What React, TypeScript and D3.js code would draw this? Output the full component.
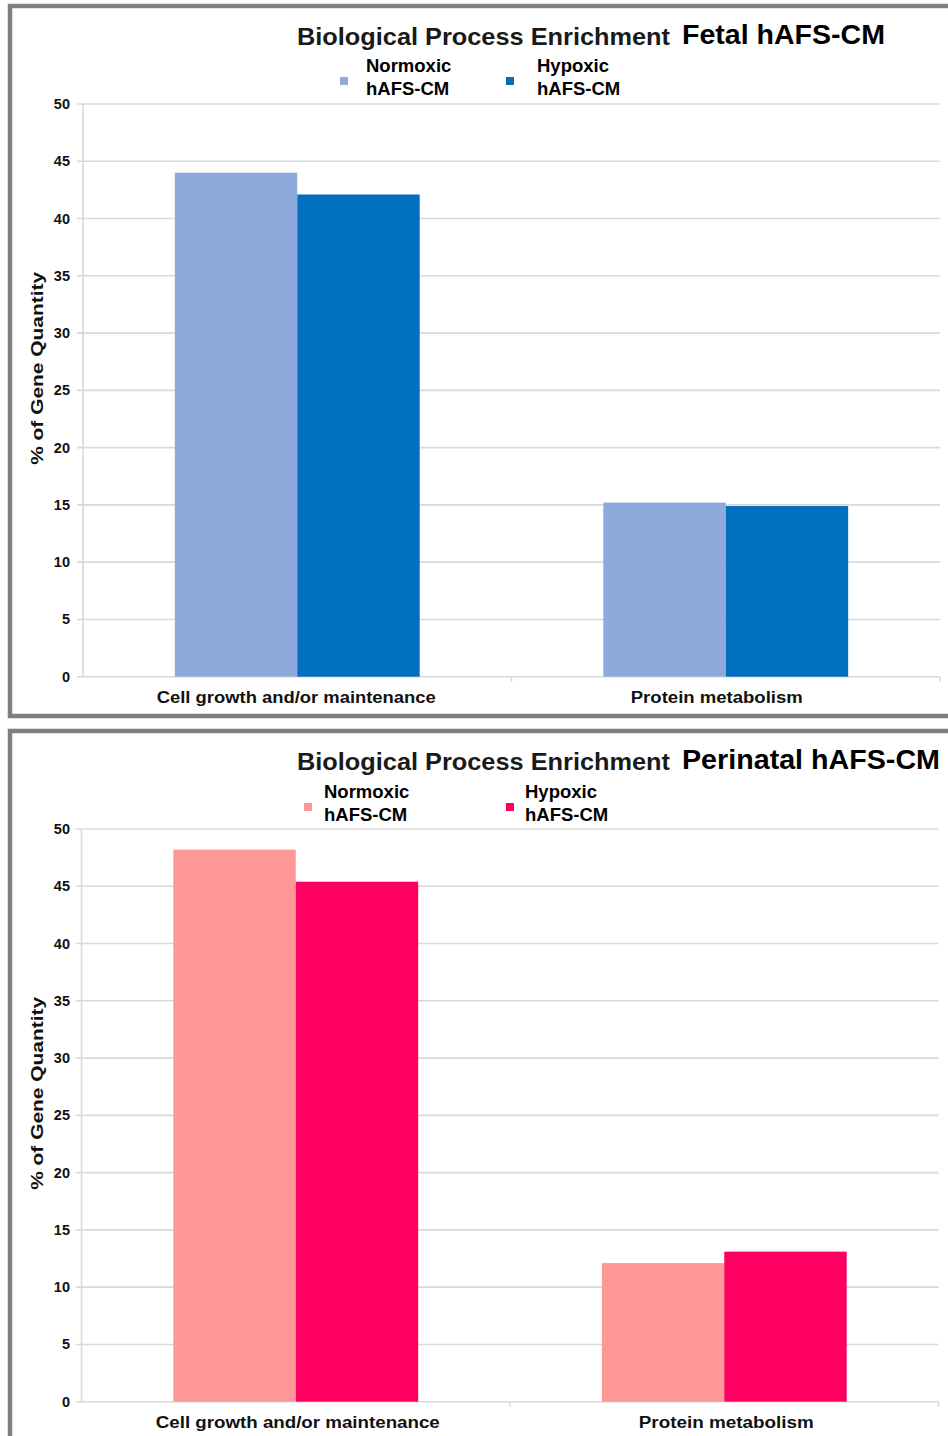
import React from "react";
import * as d3 from "d3";

// Gene-ontology enrichment: % of genes per biological process
const categories = ["Cell growth and/or maintenance", "Protein metabolism"];
const seriesLabels = [
  ["Normoxic", "hAFS-CM"],
  ["Hypoxic", "hAFS-CM"],
];
const fetalNormoxic = [44.0, 15.2];
const fetalHypoxic = [42.1, 14.9];
const perinatalNormoxic = [48.2, 12.1];
const perinatalHypoxic = [45.4, 13.1];
const yTicks = [0, 5, 10, 15, 20, 25, 30, 35, 40, 45, 50];

const FONT = "'Liberation Sans', Arial, sans-serif";

type PanelProps = {
  frameY: number;
  frameH: number;
  plotTop: number;
  plotBottom: number;
  plotLeft: number;
  plotRight: number;
  subtitle: string;
  subtitleX: number;
  subtitleW: number;
  titleBaseline: number;
  legendY: number;
  legendX: [number, number];
  legendTextX: [number, number];
  values: [number[], number[]];
  colors: [string, string];
  catLabelShift: number[];
  catLabelWidth: number[];
  catBaseline: number;
};

function Panel(p: PanelProps) {
  const x = d3.scaleBand<string>().domain(categories).range([p.plotLeft, p.plotRight]).padding(0);
  const y = d3.scaleLinear().domain([0, 50]).range([p.plotBottom, p.plotTop]);
  const bw = x.bandwidth() / 3.5; // gap width 150% of a bar
  const grid = "#d9d9d9";
  const midY = (p.plotTop + p.plotBottom) / 2 - 22;

  return (
    <g>
      {/* panel frame */}
      <rect x={10} y={p.frameY} width={980} height={p.frameH} fill="#fff" stroke="#7f7f7f" strokeWidth={4.5} />

      {/* title */}
      <text x={297} y={p.titleBaseline} fontFamily={FONT} fontWeight="bold" fontSize={24} fill="#1a1a1a"
        textLength={373} lengthAdjust="spacingAndGlyphs">
        Biological Process Enrichment
      </text>
      <text x={p.subtitleX} y={p.titleBaseline - 1} fontFamily={FONT} fontWeight="bold" fontSize={27} fill="#000"
        textLength={p.subtitleW} lengthAdjust="spacingAndGlyphs">
        {p.subtitle}
      </text>

      {/* legend */}
      {seriesLabels.map((lines, i) => (
        <g key={i}>
          <rect x={p.legendX[i]} y={p.legendY + 5} width={8} height={8} fill={p.colors[i]} />
          {lines.map((t, j) => (
            <text key={j} x={p.legendTextX[i]} y={p.legendY + j * 23} fontFamily={FONT} fontWeight="bold"
              fontSize={18.5} fill="#000">
              {t}
            </text>
          ))}
        </g>
      ))}

      {/* gridlines and y ticks */}
      {yTicks.map((t) => (
        <g key={t}>
          <line x1={p.plotLeft - 6} x2={p.plotRight} y1={y(t)} y2={y(t)} stroke={grid} strokeWidth={1.6} />
          <text x={70} y={y(t) + 5} textAnchor="end" fontFamily={FONT} fontWeight="bold" fontSize={14.5} fill="#111">
            {t}
          </text>
        </g>
      ))}
      <line x1={p.plotLeft} x2={p.plotLeft} y1={p.plotTop} y2={p.plotBottom} stroke={grid} strokeWidth={1.6} />

      {/* category ticks */}
      {[p.plotRight, ...categories.slice(1).map((c) => x(c)!)].map((xx, i) => (
        <line key={i} x1={xx} x2={xx} y1={p.plotBottom} y2={p.plotBottom + 5} stroke={grid} strokeWidth={1.6} />
      ))}

      {/* bars */}
      {categories.map((c, ci) =>
        p.values.map((vals, si) => {
          const x0 = x(c)! + (x.bandwidth() - 2 * bw) / 2 + si * bw;
          return (
            <rect key={`${ci}-${si}`} x={x0} y={y(vals[ci])} width={bw} height={y(0) - y(vals[ci])}
              fill={p.colors[si]} />
          );
        })
      )}

      {/* category labels */}
      {categories.map((c, ci) => (
        <text key={c} x={x(c)! + x.bandwidth() / 2 + p.catLabelShift[ci]} y={p.catBaseline} textAnchor="middle"
          fontFamily={FONT} fontWeight="bold" fontSize={16} fill="#111" textLength={p.catLabelWidth[ci]}
          lengthAdjust="spacingAndGlyphs">
          {c}
        </text>
      ))}

      {/* y-axis title */}
      <text transform={`translate(43,${midY}) rotate(-90)`} textAnchor="middle" fontFamily={FONT}
        fontWeight="bold" fontSize={16} fill="#111" textLength={193} lengthAdjust="spacingAndGlyphs">
        % of Gene Quantity
      </text>
    </g>
  );
}

export default function App() {
  return (
    <svg width={948} height={1436} style={{ position: "absolute", left: 0, top: 0, background: "#fff" }}>
      <rect width={948} height={1436} fill="#fff" />
      <Panel
        frameY={6}
        frameH={710}
        plotTop={104}
        plotBottom={676.7}
        plotLeft={83}
        plotRight={940}
        subtitle="Fetal hAFS-CM"
        subtitleX={682}
        subtitleW={203}
        titleBaseline={45}
        legendY={72}
        legendX={[340, 506]}
        legendTextX={[366, 537]}
        values={[fetalNormoxic, fetalHypoxic]}
        colors={["#8eaadc", "#006fc0"]}
        catLabelShift={[-1, -9]}
        catLabelWidth={[279, 172]}
        catBaseline={703}
      />
      <Panel
        frameY={731}
        frameH={760}
        plotTop={829}
        plotBottom={1401.7}
        plotLeft={81.5}
        plotRight={938.5}
        subtitle="Perinatal hAFS-CM"
        subtitleX={682}
        subtitleW={258}
        titleBaseline={770}
        legendY={798}
        legendX={[304, 506]}
        legendTextX={[324, 525]}
        values={[perinatalNormoxic, perinatalHypoxic]}
        colors={["#ff9797", "#ff0062"]}
        catLabelShift={[2, 2]}
        catLabelWidth={[284, 175]}
        catBaseline={1428}
      />
    </svg>
  );
}
